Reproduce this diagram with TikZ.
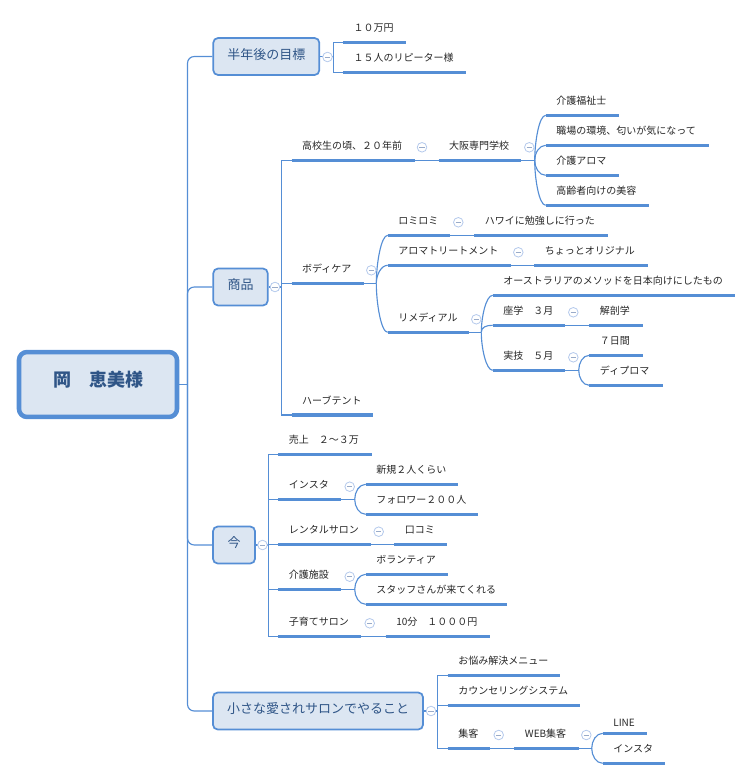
\documentclass[tikz,border=0pt]{standalone}
\usepackage{fontspec}
\setmainfont{Noto Sans CJK JP}
\definecolor{mapblue}{HTML}{558ED5}
\definecolor{mapfill}{HTML}{DCE6F2}
\definecolor{maptext}{HTML}{2F5587}
\definecolor{foldblue}{HTML}{B4C9EC}
\tikzset{
  link/.style={draw=mapblue,line width=0.85pt},
  bendup/.style={link,out=90,in=180,in distance=5pt},
  benddown/.style={link,out=-90,in=180,in distance=5pt},
  bar/.style={draw=mapblue,line width=2.4pt},
  leaf/.style={anchor=south west,inner xsep=8pt,inner ysep=0pt,outer sep=0pt,
    font=\fontsize{7.5}{9}\selectfont,text=black!85,align=left,
    text width={#1*0.75pt-16pt},text height=8pt,text depth=8.2pt,
    append after command={(\tikzlastnode.south west) edge[bar] (\tikzlastnode.south east)}},
  topic/.style={shape=rectangle,draw=mapblue,fill=mapfill,line width=1.3pt,rounded corners=3.5pt,
    inner sep=0pt,minimum height=27.7pt,font=\fontsize{9.75}{11}\selectfont,text=maptext,
    text height=8pt,text depth=4pt},
  rootbox/.style={shape=rectangle,draw=mapblue,fill=mapfill,line width=3.4pt,rounded corners=6pt,
    inner sep=0pt,minimum width=118.5pt,minimum height=48.7pt,font=\fontsize{13.5}{16}\selectfont\bfseries,
    text=maptext,text height=10pt,text depth=6.6pt},
  fold/.style={shape=circle,draw=foldblue,fill=white,line width=0.6pt,inner sep=0pt,minimum size=7.2pt,
    path picture={\draw[draw=foldblue!85!black,line width=0.5pt]
      ([xshift=-2pt]path picture bounding box.center) -- ([xshift=2pt]path picture bounding box.center);}}
}
\begin{document}
\begin{tikzpicture}[x=0.75pt,y=-0.75pt]
	\useasboundingbox (0,0) rectangle (752,780);

	\node[rootbox] (root) at (98,384.5) {岡　恵美様};
	\node[topic,minimum width=79.5pt] (goal) at (266.3,56.5) {半年後の目標};
	\node[topic,minimum width=40.8pt] (goods) at (240.5,287) {商品};
	\node[topic,minimum width=31.5pt] (now) at (234,545) {今};
	\node[topic,minimum width=157.5pt] (salon) at (318,711) {小さな愛されサロンでやること};

	\node[leaf=63] (manen) at (343,42.5) {１０万円};
	\node[leaf=123] (repeater) at (343,72.5) {１５人のリピーター様};

	\node[leaf=123] (koukou) at (291.5,160.5) {高校生の頃、２０年前};
	\node[leaf=82.5] (osaka) at (438.5,160.5) {大阪専門学校};
	\node[leaf=73] (fukushi) at (545.7,115.3) {介護福祉士};
	\node[leaf=163] (shokuba) at (545.7,145.3) {職場の環境、匂いが気になって};
	\node[leaf=73] (aroma) at (545.7,175.3) {介護アロマ};
	\node[leaf=103] (koureisha) at (545.7,205.3) {高齢者向けの美容};
	\node[leaf=72] (body) at (291.5,283.3) {ボディケア};
	\node[leaf=62.6] (lomi) at (387.7,235.3) {ロミロミ};
	\node[leaf=133.4] (hawaii) at (474.3,235.3) {ハワイに勉強しに行った};
	\node[leaf=123] (treatment) at (387.7,265.3) {アロマトリートメント};
	\node[leaf=113.4] (original) at (534.3,265.3) {ちょっとオリジナル};
	\node[leaf=81] (remedial) at (387.7,332.3) {リメディアル};
	\node[leaf=242] (australia) at (492.7,295.3) {オーストラリアのメソッドを日本向けにしたもの};
	\node[leaf=72.6] (zagaku) at (492.7,325.3) {座学　３月};
	\node[leaf=53.4] (kaibou) at (589.3,325.3) {解剖学};
	\node[leaf=72.6] (jitsugi) at (492.7,370.3) {実技　５月};
	\node[leaf=53.4] (nanoka) at (589.3,355.3) {７日間};
	\node[leaf=73.4] (diploma) at (589.3,385.3) {ディプロマ};
	\node[leaf=81.5] (herb) at (291.5,415) {ハーブテント};

	\node[leaf=93.4] (sales) at (278.3,454.3) {売上　２〜３万};
	\node[leaf=63] (insta) at (278.3,499.3) {インスタ};
	\node[leaf=92.6] (shinki) at (365.7,484.3) {新規２人くらい};
	\node[leaf=112.6] (follower) at (365.7,514.3) {フォロワー２００人};
	\node[leaf=92.4] (rental) at (278.3,544.3) {レンタルサロン};
	\node[leaf=53] (kuchikomi) at (394.3,544.3) {口コミ};
	\node[leaf=63] (kaigo) at (278.3,589.3) {介護施設};
	\node[leaf=82.6] (volunteer) at (365.7,574.3) {ボランティア};
	\node[leaf=141.6] (staff) at (365.7,604.3) {スタッフさんが来てくれる};
	\node[leaf=83] (kosodate) at (278.3,636.3) {子育てサロン};
	\node[leaf=104.6] (fee) at (385.7,636.3) {10分　１０００円};

	\node[leaf=112.6] (nayami) at (447.7,675.3) {お悩み解決メニュー};
	\node[leaf=132] (counsel) at (447.7,705.3) {カウンセリングシステム};
	\node[leaf=42.6] (shukyaku) at (447.7,748.3) {集客};
	\node[leaf=64.4] (web) at (514.3,748.3) {WEB集客};
	\node[leaf=44.6,text depth=5.2pt] (line) at (602.7,733.3) {LINE};
	\node[leaf=62.6] (insta2) at (602.7,763.3) {インスタ};

	\coordinate (trunk) at (187.5,384.5);
	\coordinate (busgoal) at (333.5,56.5);
	\coordinate (busgoods) at (281.5,287);
	\coordinate (busnow) at (268.3,545);
	\coordinate (bussalon) at (437.3,711);
	\coordinate (brosaka) at (534.7,160.5);
	\coordinate (brbody) at (376.3,283.3);
	\coordinate (brremedial) at (481.3,332.3);
	\coordinate (brjitsugi) at (578.7,370.3);
	\coordinate (brinsta) at (354.7,499.3);
	\coordinate (brkaigo) at (354.7,589.3);
	\coordinate (brweb) at (591.7,748.3);

	\path[link] (root) -- (trunk);
	\draw[link,rounded corners=5pt] (trunk) |- (goal.west);
	\draw[link,rounded corners=5pt] (trunk) |- (goods.west);
	\draw[link,rounded corners=5pt] (trunk) |- (now.west);
	\draw[link,rounded corners=5pt] (trunk) |- (salon.west);

	\path[link] (goal) -- (busgoal);
	\path[link] (busgoal) |- (manen.south west);
	\path[link] (busgoal) |- (repeater.south west);

	\path[link] (goods) -- (busgoods);
	\path[link] (busgoods) |- (koukou.south west);
	\path[link] (busgoods) |- (body.south west);
	\path[link] (busgoods) |- (herb.south west);
	\path[link] (koukou.south east) -- (osaka.south west);
	\path[link] (osaka.south east) -- (brosaka);
	\path[link] (brosaka) to[bendup] (fukushi.south west);
	\path[link] (brosaka) to[bendup] (shokuba.south west);
	\path[link] (brosaka) to[benddown] (aroma.south west);
	\path[link] (brosaka) to[benddown] (koureisha.south west);
	\path[link] (body.south east) -- (brbody);
	\path[link] (brbody) to[bendup] (lomi.south west);
	\path[link] (brbody) to[bendup] (treatment.south west);
	\path[link] (brbody) to[benddown] (remedial.south west);
	\path[link] (lomi.south east) -- (hawaii.south west);
	\path[link] (treatment.south east) -- (original.south west);
	\path[link] (remedial.south east) -- (brremedial);
	\path[link] (brremedial) to[bendup] (australia.south west);
	\path[link] (brremedial) to[bendup] (zagaku.south west);
	\path[link] (brremedial) to[benddown] (jitsugi.south west);
	\path[link] (zagaku.south east) -- (kaibou.south west);
	\path[link] (jitsugi.south east) -- (brjitsugi);
	\path[link] (brjitsugi) to[bendup] (nanoka.south west);
	\path[link] (brjitsugi) to[benddown] (diploma.south west);

	\path[link] (now) -- (busnow);
	\path[link] (busnow) |- (sales.south west);
	\path[link] (busnow) |- (insta.south west);
	\path[link] (busnow) |- (rental.south west);
	\path[link] (busnow) |- (kaigo.south west);
	\path[link] (busnow) |- (kosodate.south west);
	\path[link] (insta.south east) -- (brinsta);
	\path[link] (brinsta) to[bendup] (shinki.south west);
	\path[link] (brinsta) to[benddown] (follower.south west);
	\path[link] (rental.south east) -- (kuchikomi.south west);
	\path[link] (kaigo.south east) -- (brkaigo);
	\path[link] (brkaigo) to[bendup] (volunteer.south west);
	\path[link] (brkaigo) to[benddown] (staff.south west);
	\path[link] (kosodate.south east) -- (fee.south west);

	\path[link] (salon) -- (bussalon);
	\path[link] (bussalon) |- (nayami.south west);
	\path[link] (bussalon) |- (counsel.south west);
	\path[link] (bussalon) |- (shukyaku.south west);
	\path[link] (shukyaku.south east) -- (web.south west);
	\path[link] (web.south east) -- (brweb);
	\path[link] (brweb) to[bendup] (line.south west);
	\path[link] (brweb) to[benddown] (insta2.south west);

	\node[fold] (fgoal) at (327.5,57) {};
	\node[fold] (fgoods) at (275,287) {};
	\node[fold] (fnow) at (262.5,545) {};
	\node[fold] (fsalon) at (431,711) {};
	\node[fold] (fkoukou) at (422,147.3) {};
	\node[fold] (fosaka) at (529.3,147.3) {};
	\node[fold] (fbody) at (371.3,270.3) {};
	\node[fold] (flomi) at (458.3,222.3) {};
	\node[fold] (ftreatment) at (518.3,252.3) {};
	\node[fold] (fremedial) at (476.3,319.3) {};
	\node[fold] (fzagaku) at (573.3,312.3) {};
	\node[fold] (fjitsugi) at (573.3,357.3) {};
	\node[fold] (finsta) at (349.7,486.7) {};
	\node[fold] (frental) at (378.7,531.7) {};
	\node[fold] (fkaigo) at (349.7,576.7) {};
	\node[fold] (fkosodate) at (369.7,623.3) {};
	\node[fold] (fshukyaku) at (498.7,735) {};
	\node[fold] (fweb) at (586.3,735) {};
\end{tikzpicture}
\end{document}
